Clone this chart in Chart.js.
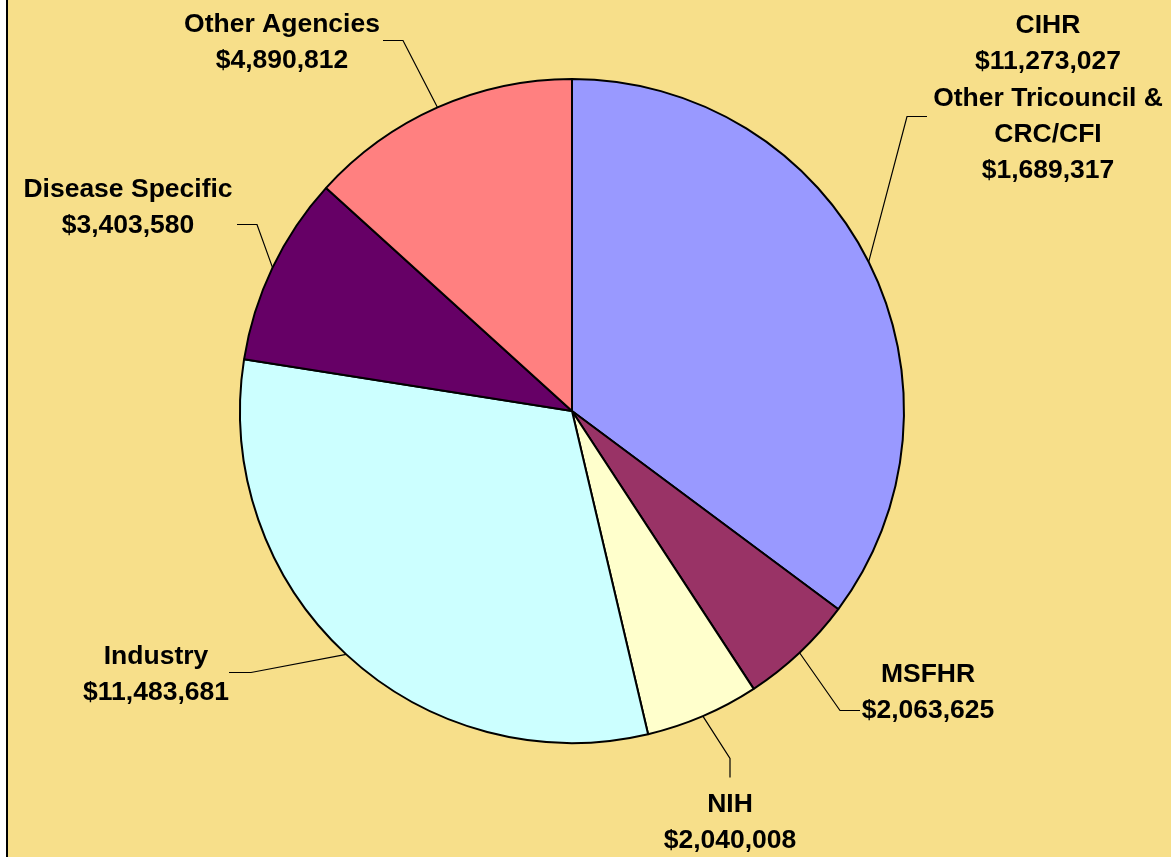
<!DOCTYPE html>
<html>
<head>
<meta charset="utf-8">
<script src="https://cdn.jsdelivr.net/npm/chart.js@4.4.1/dist/chart.umd.min.js"></script>
<style>
  html, body { margin: 0; padding: 0; background: #ffffff; }
  #wrap { width: 1171px; height: 857px; position: relative; }
  canvas { display: block; }
</style>
</head>
<body>
<div id="wrap"><canvas id="c" width="1171" height="857"></canvas></div>
<script>
// ---- Data ----
const categories = ['CIHR + Other Tricouncil & CRC/CFI', 'MSFHR', 'NIH', 'Industry', 'Disease Specific', 'Other Agencies'];
const amounts = [12962344, 2063625, 2040008, 11483681, 3403580, 4890812];
const labelLines = [
  ['CIHR', '$11,273,027', 'Other Tricouncil &', 'CRC/CFI', '$1,689,317'],
  ['MSFHR', '$2,063,625'],
  ['NIH', '$2,040,008'],
  ['Industry', '$11,483,681'],
  ['Disease Specific', '$3,403,580'],
  ['Other Agencies', '$4,890,812']
];
const sliceColors = ['#9999FF', '#993366', '#FFFFCC', '#CCFFFF', '#660066', '#FF8080'];

// ---- Label layout (positions only) ----
const labelLayout = [
  { elbow: [907, 116], end: [927, 116], textX: 1048, capTop: 14 },
  { elbow: [840, 710], end: [860, 710], textX: 928, capTop: 663 },
  { elbow: [730, 758], end: [730, 777], textX: 730, capTop: 793 },
  { elbow: [251, 672], end: [229, 672], textX: 156, capTop: 645 },
  { elbow: [257, 224], end: [237, 224], textX: 128, capTop: 178 },
  { elbow: [403, 40], end: [383, 40], textX: 282, capTop: 13 }
];

const bgPlugin = {
  id: 'bg',
  beforeDraw(chart) {
    const ctx = chart.ctx;
    ctx.save();
    ctx.fillStyle = '#ffffff';
    ctx.fillRect(0, 0, chart.width, chart.height);
    ctx.fillStyle = 'rgb(247,223,138)';
    ctx.fillRect(8, 0, chart.width - 8, chart.height);
    ctx.fillStyle = '#000000';
    ctx.fillRect(6, 0, 2, chart.height);
    ctx.restore();
  }
};

const labelPlugin = {
  id: 'pieLabels',
  afterDatasetsDraw(chart) {
    const ctx = chart.ctx;
    const meta = chart.getDatasetMeta(0);
    ctx.save();
    meta.data.forEach((arc, i) => {
      const p = arc.getProps(['x', 'y', 'startAngle', 'endAngle', 'outerRadius'], true);
      const mid = (p.startAngle + p.endAngle) / 2;
      const sx = p.x + Math.cos(mid) * p.outerRadius;
      const sy = p.y + Math.sin(mid) * p.outerRadius;
      const L = labelLayout[i];
      ctx.strokeStyle = '#000000';
      ctx.lineWidth = 1.2;
      ctx.beginPath();
      ctx.moveTo(sx, sy);
      ctx.lineTo(L.elbow[0], L.elbow[1] + 0.5);
      ctx.lineTo(L.end[0], L.end[1] + 0.5);
      ctx.stroke();
      ctx.fillStyle = '#000000';
      ctx.font = 'bold 26.5px "Liberation Sans", Arial, sans-serif';
      ctx.textAlign = 'center';
      ctx.textBaseline = 'alphabetic';
      labelLines[i].forEach((t, k) => {
        ctx.fillText(t, L.textX, L.capTop + 19 + k * 36.3);
      });
    });
    ctx.restore();
  }
};

new Chart(document.getElementById('c'), {
  type: 'pie',
  data: {
    labels: categories,
    datasets: [{
      data: amounts,
      backgroundColor: sliceColors,
      borderColor: '#000000',
      borderWidth: 2
    }]
  },
  options: {
    responsive: false,
    animation: false,
    radius: 332,
    layout: { padding: { top: 79, bottom: 114, left: 200, right: 227 } },
    plugins: {
      legend: { display: false },
      tooltip: { enabled: false },
      title: { display: false }
    }
  },
  plugins: [bgPlugin, labelPlugin]
});
</script>
</body>
</html>
